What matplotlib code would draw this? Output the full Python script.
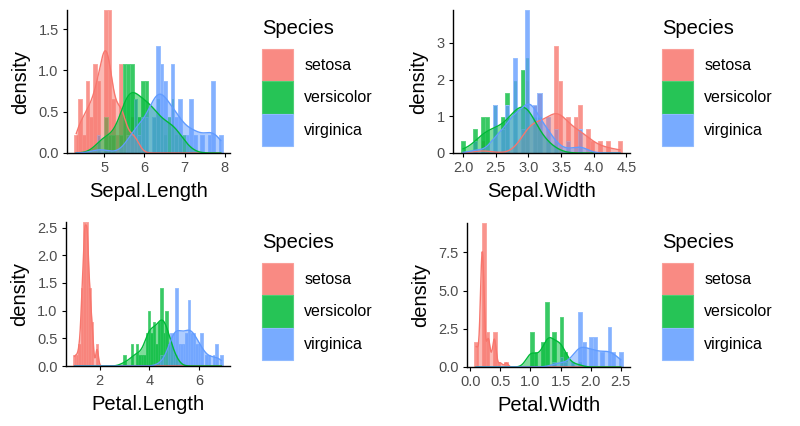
import numpy as np
import matplotlib
matplotlib.use("Agg")
import matplotlib.pyplot as plt
from matplotlib.patches import Patch
from matplotlib.colors import to_rgba, to_rgb

plt.rcParams['font.family'] = ['Liberation Sans', 'DejaVu Sans']

SPECIES = ["setosa", "versicolor", "virginica"]
COLORS = ["#F8766D", "#00BA38", "#619CFF"]

# iris data, one list per species and measurement
setosa_sepal_length = [5.1, 4.9, 4.7, 4.6, 5.0, 5.4, 4.6, 5.0, 4.4, 4.9, 5.4, 4.8, 4.8, 4.3, 5.8, 5.7, 5.4, 5.1, 5.7, 5.1,
                       5.4, 5.1, 4.6, 5.1, 4.8, 5.0, 5.0, 5.2, 5.2, 4.7, 4.8, 5.4, 5.2, 5.5, 4.9, 5.0, 5.5, 4.9, 4.4, 5.1,
                       5.0, 4.5, 4.4, 5.0, 5.1, 4.8, 5.1, 4.6, 5.3, 5.0]
setosa_sepal_width = [3.5, 3.0, 3.2, 3.1, 3.6, 3.9, 3.4, 3.4, 2.9, 3.1, 3.7, 3.4, 3.0, 3.0, 4.0, 4.4, 3.9, 3.5, 3.8, 3.8,
                      3.4, 3.7, 3.6, 3.3, 3.4, 3.0, 3.4, 3.5, 3.4, 3.2, 3.1, 3.4, 4.1, 4.2, 3.1, 3.2, 3.5, 3.6, 3.0, 3.4,
                      3.5, 2.3, 3.2, 3.5, 3.8, 3.0, 3.8, 3.2, 3.7, 3.3]
setosa_petal_length = [1.4, 1.4, 1.3, 1.5, 1.4, 1.7, 1.4, 1.5, 1.4, 1.5, 1.5, 1.6, 1.4, 1.1, 1.2, 1.5, 1.3, 1.4, 1.7, 1.5,
                       1.7, 1.5, 1.0, 1.7, 1.9, 1.6, 1.6, 1.5, 1.4, 1.6, 1.6, 1.5, 1.5, 1.4, 1.5, 1.2, 1.3, 1.4, 1.3, 1.5,
                       1.3, 1.3, 1.3, 1.6, 1.9, 1.4, 1.6, 1.4, 1.5, 1.4]
setosa_petal_width = [0.2, 0.2, 0.2, 0.2, 0.2, 0.4, 0.3, 0.2, 0.2, 0.1, 0.2, 0.2, 0.1, 0.1, 0.2, 0.4, 0.4, 0.3, 0.3, 0.3,
                      0.2, 0.4, 0.2, 0.5, 0.2, 0.2, 0.4, 0.2, 0.2, 0.2, 0.2, 0.4, 0.1, 0.2, 0.2, 0.2, 0.2, 0.1, 0.2, 0.2,
                      0.3, 0.3, 0.2, 0.6, 0.4, 0.3, 0.2, 0.2, 0.2, 0.2]

versicolor_sepal_length = [7.0, 6.4, 6.9, 5.5, 6.5, 5.7, 6.3, 4.9, 6.6, 5.2, 5.0, 5.9, 6.0, 6.1, 5.6, 6.7, 5.6, 5.8, 6.2, 5.6,
                           5.9, 6.1, 6.3, 6.1, 6.4, 6.6, 6.8, 6.7, 6.0, 5.7, 5.5, 5.5, 5.8, 6.0, 5.4, 6.0, 6.7, 6.3, 5.6, 5.5,
                           5.5, 6.1, 5.8, 5.0, 5.6, 5.7, 5.7, 6.2, 5.1, 5.7]
versicolor_sepal_width = [3.2, 3.2, 3.1, 2.3, 2.8, 2.8, 3.3, 2.4, 2.9, 2.7, 2.0, 3.0, 2.2, 2.9, 2.9, 3.1, 3.0, 2.7, 2.2, 2.5,
                          3.2, 2.8, 2.5, 2.8, 2.9, 3.0, 2.8, 3.0, 2.9, 2.6, 2.4, 2.4, 2.7, 2.7, 3.0, 3.4, 3.1, 2.3, 3.0, 2.5,
                          2.6, 3.0, 2.6, 2.3, 2.7, 3.0, 2.9, 2.9, 2.5, 2.8]
versicolor_petal_length = [4.7, 4.5, 4.9, 4.0, 4.6, 4.5, 4.7, 3.3, 4.6, 3.9, 3.5, 4.2, 4.0, 4.7, 3.6, 4.4, 4.5, 4.1, 4.5, 3.9,
                           4.8, 4.0, 4.9, 4.7, 4.3, 4.4, 4.8, 5.0, 4.5, 3.5, 3.8, 3.7, 3.9, 5.1, 4.5, 4.5, 4.7, 4.4, 4.1, 4.0,
                           4.4, 4.6, 4.0, 3.3, 4.2, 4.2, 4.2, 4.3, 3.0, 4.1]
versicolor_petal_width = [1.4, 1.5, 1.5, 1.3, 1.5, 1.3, 1.6, 1.0, 1.3, 1.4, 1.0, 1.5, 1.0, 1.4, 1.3, 1.4, 1.5, 1.0, 1.5, 1.1,
                          1.8, 1.3, 1.5, 1.2, 1.3, 1.4, 1.4, 1.7, 1.5, 1.0, 1.1, 1.0, 1.2, 1.6, 1.5, 1.6, 1.5, 1.3, 1.3, 1.3,
                          1.2, 1.4, 1.2, 1.0, 1.3, 1.2, 1.3, 1.3, 1.1, 1.3]

virginica_sepal_length = [6.3, 5.8, 7.1, 6.3, 6.5, 7.6, 4.9, 7.3, 6.7, 7.2, 6.5, 6.4, 6.8, 5.7, 5.8, 6.4, 6.5, 7.7, 7.7, 6.0,
                          6.9, 5.6, 7.7, 6.3, 6.7, 7.2, 6.2, 6.1, 6.4, 7.2, 7.4, 7.9, 6.4, 6.3, 6.1, 7.7, 6.3, 6.4, 6.0, 6.9,
                          6.7, 6.9, 5.8, 6.8, 6.7, 6.7, 6.3, 6.5, 6.2, 5.9]
virginica_sepal_width = [3.3, 2.7, 3.0, 2.9, 3.0, 3.0, 2.5, 2.9, 2.5, 3.6, 3.2, 2.7, 3.0, 2.5, 2.8, 3.2, 3.0, 3.8, 2.6, 2.2,
                         3.2, 2.8, 2.8, 2.7, 3.3, 3.2, 2.8, 3.0, 2.8, 3.0, 2.8, 3.8, 2.8, 2.8, 2.6, 3.0, 3.4, 3.1, 3.0, 3.1,
                         3.1, 3.1, 2.7, 3.2, 3.3, 3.0, 2.5, 3.0, 3.4, 3.0]
virginica_petal_length = [6.0, 5.1, 5.9, 5.6, 5.8, 6.6, 4.5, 6.3, 5.8, 6.1, 5.1, 5.3, 5.5, 5.0, 5.1, 5.3, 5.5, 6.7, 6.9, 5.0,
                          5.7, 4.9, 6.7, 4.9, 5.7, 6.0, 4.8, 4.9, 5.6, 5.8, 6.1, 6.4, 5.6, 5.1, 5.6, 6.1, 5.6, 5.5, 4.8, 5.4,
                          5.6, 5.1, 5.1, 5.9, 5.7, 5.2, 5.0, 5.2, 5.4, 5.1]
virginica_petal_width = [2.5, 1.9, 2.1, 1.8, 2.2, 2.1, 1.7, 1.8, 1.8, 2.5, 2.0, 1.9, 2.1, 2.0, 2.4, 2.3, 1.8, 2.2, 2.3, 1.5,
                         2.3, 2.0, 2.0, 1.8, 2.1, 1.8, 1.8, 1.8, 2.1, 1.6, 1.9, 2.0, 2.2, 1.5, 1.4, 2.3, 2.4, 1.8, 1.8, 2.1,
                         2.4, 2.3, 1.9, 2.3, 2.5, 2.3, 1.9, 2.0, 2.3, 1.8]

panels = [
    ("Sepal.Length", [setosa_sepal_length, versicolor_sepal_length, virginica_sepal_length]),
    ("Sepal.Width", [setosa_sepal_width, versicolor_sepal_width, virginica_sepal_width]),
    ("Petal.Length", [setosa_petal_length, versicolor_petal_length, virginica_petal_length]),
    ("Petal.Width", [setosa_petal_width, versicolor_petal_width, virginica_petal_width]),
]
n_bins = [40, 40, 60, 40]
x_ticks = [[5, 6, 7, 8], [2.0, 2.5, 3.0, 3.5, 4.0, 4.5], [2, 4, 6], [0.0, 0.5, 1.0, 1.5, 2.0, 2.5]]
x_fmt = ["{:.0f}", "{:.1f}", "{:.0f}", "{:.1f}"]
y_ticks = [[0.0, 0.5, 1.0, 1.5], [0, 1, 2, 3], [0.0, 0.5, 1.0, 1.5, 2.0, 2.5], [0.0, 2.5, 5.0, 7.5]]
y_fmt = ["{:.1f}", "{:.0f}", "{:.1f}", "{:.1f}"]

# panel boxes in pixels: left, right, top, bottom
boxes = [(67, 230, 10, 153), (453, 630, 10, 153), (66, 230, 222, 366), (467, 630, 223, 367)]
legend_xy = [(262, 29), (662, 29), (262, 243), (662, 243)]

W, H = 800, 426
fig = plt.figure(figsize=(W / 100, H / 100), dpi=100)


def bw_nrd0(x):
    hi = np.std(x, ddof=1)
    q75, q25 = np.percentile(x, [75, 25])
    lo = min(hi, (q75 - q25) / 1.34)
    return 0.9 * lo * len(x) ** -0.2


def kde(x, grid):
    x = np.asarray(x)
    h = bw_nrd0(x)
    z = (grid[:, None] - x[None, :]) / h
    return np.exp(-0.5 * z ** 2).sum(axis=1) / (len(x) * h * np.sqrt(2 * np.pi))


def lighten(c, f):
    rgb = np.array(to_rgb(c))
    return tuple(rgb + (1 - rgb) * f)


for i, (name, groups) in enumerate(panels):
    l, r, t, b = boxes[i]
    ax = fig.add_axes([l / W, 1 - b / H, (r - l) / W, (b - t) / H])

    all_x = np.concatenate([np.asarray(g) for g in groups])
    lo, hi = all_x.min(), all_x.max()
    width = (hi - lo) / (n_bins[i] - 1)
    edges = lo - width / 2 + width * np.arange(n_bins[i] + 1)
    fuzz = 1e-7 * width
    centers = (edges[:-1] + edges[1:]) / 2

    ymax = 0
    for g, c in zip(groups, COLORS):
        counts, _ = np.histogram(g, bins=edges + fuzz)
        dens = counts / (len(g) * width)
        ymax = max(ymax, dens.max())
        keep = counts > 0
        ax.bar(centers[keep], dens[keep], width=width, color=to_rgba(c, 0.78),
               edgecolor=lighten(c, 0.35), linewidth=0.7)

    grid = np.linspace(lo, hi, 512)
    for g, c in zip(groups, COLORS):
        d = kde(g, grid)
        ax.fill_between(grid, 0, d, color=c, alpha=0.5, linewidth=0)
        ax.plot(grid, d, color=c, linewidth=1.0)

    span = edges[-1] - edges[0]
    ax.set_xlim(edges[0] - 0.05 * span, edges[-1] + 0.05 * span)
    ax.set_ylim(0, ymax)

    ax.set_xticks(x_ticks[i])
    ax.set_xticklabels([x_fmt[i].format(v) for v in x_ticks[i]])
    ax.set_yticks(y_ticks[i])
    ax.set_yticklabels([y_fmt[i].format(v) for v in y_ticks[i]])

    for s in ["top", "right"]:
        ax.spines[s].set_visible(False)
    for s in ["left", "bottom"]:
        ax.spines[s].set_linewidth(1.0)
        ax.spines[s].set_color("black")
    ax.tick_params(direction="out", length=3, width=0.8, color="black",
                   labelsize=10.5, labelcolor="#4D4D4D", pad=3)
    ax.set_xlabel(name, fontsize=14.5, labelpad=5)
    ax.set_ylabel("density", fontsize=14.5, labelpad=6)

    # legend: title as text, keys below it
    lx, ly = legend_xy[i]
    fig.text(lx / W, 1 - ly / H, "Species", fontsize=14.5, ha="left", va="center")
    handles = [Patch(facecolor=to_rgba(c, 0.85), edgecolor=lighten(c, 0.3), linewidth=0.8, label=s)
               for s, c in zip(SPECIES, COLORS)]
    fig.legend(handles=handles, loc="upper left",
               bbox_to_anchor=(lx / W, 1 - (ly + 20) / H), frameon=False,
               fontsize=11.5, handlelength=1.95, handleheight=2.75,
               labelspacing=0.0, handletextpad=0.7, borderpad=0, borderaxespad=0)

fig.savefig("out.png", dpi=100)
